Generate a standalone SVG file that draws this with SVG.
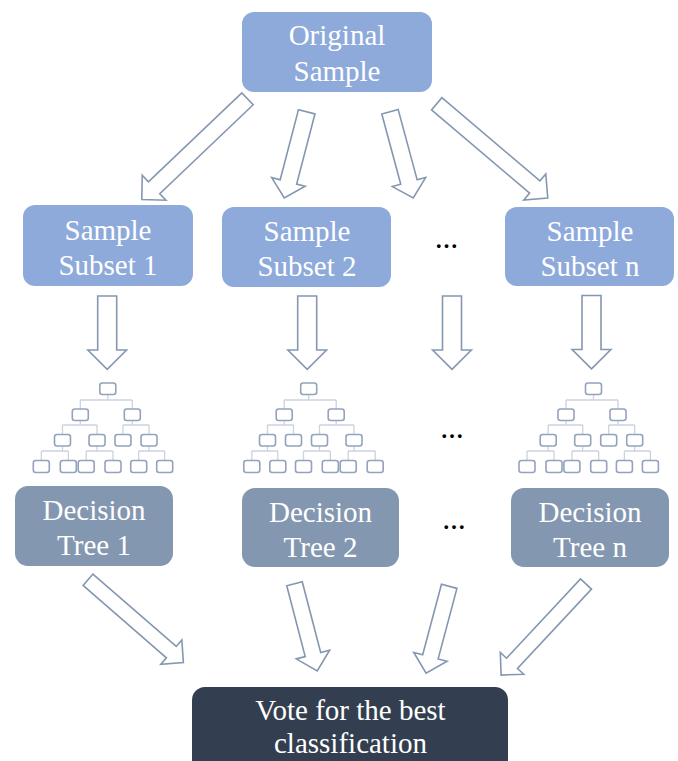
<svg xmlns="http://www.w3.org/2000/svg" xmlns:xlink="http://www.w3.org/1999/xlink" width="678" height="761" viewBox="0 0 678 761">
<style>
.top{fill:#8eaadb}
.dec{fill:#8497b0}
.vote{fill:#333f50}
.lbl{font-family:"Liberation Serif","Times New Roman",serif;font-size:29px;fill:#ffffff;text-anchor:middle}
.dots{font-family:"Liberation Serif","Times New Roman",serif;font-size:23px;font-weight:bold;fill:#000000;text-anchor:middle}
.arr{fill:#ffffff;stroke:#8497b0;stroke-width:1.6;stroke-linejoin:miter}
.tb{fill:#ffffff;stroke:#93a3bd;stroke-width:1.6}
.tl{fill:none;stroke:#cbd3df;stroke-width:1.3}
</style>
<defs>
<g id="tree">
<path class="tl" d="M0,394.5V400M-27.5,400H24.5M-27.5,400V409M24.5,400V409M-27.5,420.5V425M-45.3,425H-10.8M-45.3,425V434.5M-10.8,425V434.5M24.5,420.5V425M15.2,425H41.2M15.2,425V434.5M41.2,425V434.5M-45.3,446V451M-66.5,451H-39.5M-66.5,451V460.5M-39.5,451V460.5M-10.8,446V451M-21.6,451H5.2M-21.6,451V460.5M5.2,451V460.5M41.2,446V451M30.9,451H56.9M30.9,451V460.5M56.9,451V460.5"/>
<rect class="tb" x="-8" y="383" width="16" height="11.5" rx="2.5"/>
<rect class="tb" x="-35.5" y="409" width="16" height="11.5" rx="2.5"/>
<rect class="tb" x="16.5" y="409" width="16" height="11.5" rx="2.5"/>
<rect class="tb" x="-53.3" y="434.5" width="16" height="11.5" rx="2.5"/>
<rect class="tb" x="-18.8" y="434.5" width="16" height="11.5" rx="2.5"/>
<rect class="tb" x="7.2" y="434.5" width="16" height="11.5" rx="2.5"/>
<rect class="tb" x="33.2" y="434.5" width="16" height="11.5" rx="2.5"/>
<rect class="tb" x="-74.5" y="460.5" width="16" height="12" rx="2.5"/>
<rect class="tb" x="-47.5" y="460.5" width="16" height="12" rx="2.5"/>
<rect class="tb" x="-29.6" y="460.5" width="16" height="12" rx="2.5"/>
<rect class="tb" x="-2.8" y="460.5" width="16" height="12" rx="2.5"/>
<rect class="tb" x="22.9" y="460.5" width="16" height="12" rx="2.5"/>
<rect class="tb" x="48.9" y="460.5" width="16" height="12" rx="2.5"/>
</g>
</defs>

<g id="connectors">
<path class="arr" transform="translate(247.5,98.8) rotate(136.4)" d="M0,-8.25H129V-17.2L146,0L129,17.2V8.25H0Z"/>
<path class="arr" transform="translate(306.7,111.8) rotate(104.6)" d="M0,-8.5H72.5V-17.25L89,0L72.5,17.25V8.5H0Z"/>
<path class="arr" transform="translate(390,111.8) rotate(74.9)" d="M0,-8.5H72.8V-17.25L89.3,0L72.8,17.25V8.5H0Z"/>
<path class="arr" transform="translate(436.7,103.8) rotate(40.3)" d="M0,-8H128.6V-17L145.6,0L128.6,17V8H0Z"/>
<path class="arr" transform="translate(107.2,296) rotate(90)" d="M0,-9.5H54V-19.35L73.3,0L54,19.35V9.5H0Z"/>
<path class="arr" transform="translate(307.2,296) rotate(90)" d="M0,-9.5H54V-19.35L73.3,0L54,19.35V9.5H0Z"/>
<path class="arr" transform="translate(452,296) rotate(90)" d="M0,-9.5H54V-19.35L73.3,0L54,19.35V9.5H0Z"/>
<path class="arr" transform="translate(591.5,295.5) rotate(90)" d="M0,-9.5H54V-19.35L73.3,0L54,19.35V9.5H0Z"/>
<path class="arr" transform="translate(88,579.7) rotate(41)" d="M0,-7.5H110.4V-16L126.4,0L110.4,16V7.5H0Z"/>
<path class="arr" transform="translate(294.5,583.7) rotate(75.4)" d="M0,-8H73.2V-17.25L90.2,0L73.2,17.25V8H0Z"/>
<path class="arr" transform="translate(449.2,586.3) rotate(104.9)" d="M0,-8H73V-17.25L90,0L73,17.25V8H0Z"/>
<path class="arr" transform="translate(586,584) rotate(133)" d="M0,-7.5H108.5V-16L124.5,0L108.5,16V7.5H0Z"/>
</g>

<g id="original-sample">
<rect class="top" x="242" y="12" width="190" height="80" rx="12"/>
<text class="lbl" x="337" y="45">Original</text>
<text class="lbl" x="337" y="81">Sample</text>
</g>

<g id="subset-1">
<rect class="top" x="23" y="205" width="170" height="81" rx="12"/>
<text class="lbl" x="108" y="240">Sample</text>
<text class="lbl" x="108" y="275">Subset 1</text>
</g>
<g id="subset-2">
<rect class="top" x="222" y="207" width="169" height="80" rx="12"/>
<text class="lbl" x="307" y="241">Sample</text>
<text class="lbl" x="307" y="276">Subset 2</text>
</g>
<g id="subset-dots">
<text class="dots" x="446.5" y="248">…</text>
</g>
<g id="subset-n">
<rect class="top" x="505" y="207" width="169" height="79" rx="12"/>
<text class="lbl" x="590" y="241">Sample</text>
<text class="lbl" x="590" y="276">Subset n</text>
</g>

<g id="tree-1"><use xlink:href="#tree" transform="translate(107.8,0)"/></g>
<g id="tree-2"><use xlink:href="#tree" transform="translate(308.7,0) scale(-1,1)"/></g>
<g id="tree-dots"><text class="dots" x="452" y="438">…</text></g>
<g id="tree-n"><use xlink:href="#tree" transform="translate(593.5,0)"/></g>

<g id="decision-tree-1">
<rect class="dec" x="15" y="486" width="158" height="80" rx="13"/>
<text class="lbl" x="94" y="520">Decision</text>
<text class="lbl" x="94" y="555">Tree 1</text>
</g>
<g id="decision-tree-2">
<rect class="dec" x="242" y="488" width="157" height="79" rx="13"/>
<text class="lbl" x="320.5" y="522">Decision</text>
<text class="lbl" x="320.5" y="557">Tree 2</text>
</g>
<g id="decision-dots"><text class="dots" x="454" y="529">…</text></g>
<g id="decision-tree-n">
<rect class="dec" x="511" y="488" width="158" height="79" rx="13"/>
<text class="lbl" x="590" y="522">Decision</text>
<text class="lbl" x="590" y="557">Tree n</text>
</g>

<g id="vote">
<rect class="vote" x="192" y="687" width="316" height="90" rx="13"/>
<text class="lbl" x="350.5" y="720">Vote for the best</text>
<text class="lbl" x="350.5" y="753">classification</text>
</g>
</svg>
